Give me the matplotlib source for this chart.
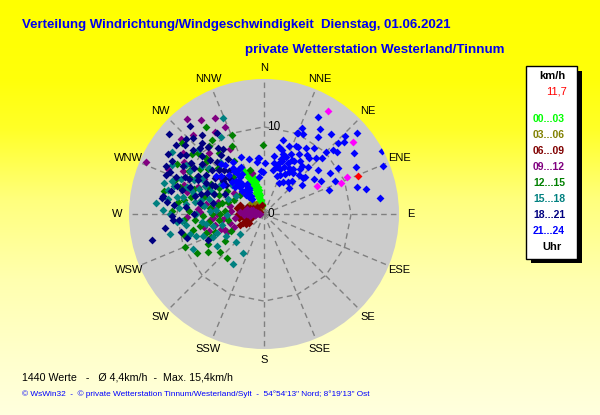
import numpy as np
import matplotlib
matplotlib.use("Agg")
import matplotlib.pyplot as plt
from matplotlib.patches import Rectangle, Circle

plt.rcParams['font.family'] = ['Liberation Sans', 'DejaVu Sans']

# --- wind readings (direction in deg from N, speed in km/h) ---
# 00...03 Uhr
dir_00 = [341, 343, 340, 344, 346, 342, 345, 347, 339, 343, 348, 344, 341, 346, 349, 342,
          345, 340, 347, 344, 350, 343, 338, 346, 336, 338, 337, 340, 342, 335, 339]
spd_00 = [5.2, 4.8, 4.5, 4.3, 3.9, 4.0, 3.6, 3.2, 3.8, 3.4, 2.8, 2.9, 3.1, 2.5, 2.2, 2.6,
          2.0, 2.3, 1.7, 1.5, 1.2, 1.9, 4.1, 1.0, 4.6, 5.0, 3.6, 3.0, 2.0, 5.4, 2.6]
# 03...06 Uhr
dir_03 = [300, 310, 320, 290, 330, 315, 305, 295]
spd_03 = [1.2, 0.9, 1.5, 1.0, 0.8, 1.8, 2.0, 1.4]
# 06...09 Uhr
dir_06 = [247, 251, 256, 275, 285, 315, 347, 297, 293, 268, 292, 283, 260, 240, 265, 278,
          300, 255, 270, 288, 245, 262, 280, 305, 250, 273, 290, 238]
spd_06 = [2.6, 2.1, 1.4, 2.4, 2.6, 1.1, 1.1, 0.5, 1.75, 2.5, 2.1, 3.2, 2.9, 2.4, 1.8, 1.5,
          1.4, 2.2, 3.0, 2.0, 3.1, 1.0, 0.9, 0.8, 1.7, 2.7, 2.9, 2.0]
# 09...12 Uhr
dir_09 = [265, 270, 275, 280, 285, 268, 272, 278, 283, 288, 266, 274, 281, 276, 271, 262,
          290, 279, 321, 333, 336, 329, 307, 332, 295, 294, 272, 264, 244, 262, 275, 300,
          310, 285, 318, 290, 305, 280, 325, 298, 312, 258, 268, 315, 326, 344, 265, 248,
          250, 255, 258, 266, 270, 276, 246, 253, 283, 278, 262, 296, 303, 318, 286, 274,
          310, 292]
spd_09 = [1.0, 1.4, 1.8, 2.2, 1.6, 0.6, 0.9, 1.2, 1.0, 2.0, 2.3, 2.4, 0.7, 0.5, 1.9, 1.6,
          1.3, 1.5, 14.1, 12.4, 10.9, 11.0, 11.7, 8.4, 12.2, 14.8, 7.4, 6.2, 4.7, 4.9, 2.8, 8.0,
          6.5, 5.5, 9.5, 9.8, 4.2, 6.8, 6.0, 10.5, 12.8, 7.0, 8.8, 3.6, 13.0, 4.9, 5.9, 4.8,
          5.2, 4.0, 5.8, 4.4, 5.4, 3.8, 3.8, 6.6, 4.0, 6.0, 3.4, 7.2, 11.0, 12.2, 9.2, 7.6,
          9.0, 8.2]
# 12...15 Uhr
dir_12 = [311, 325, 335, 342, 220, 229, 240, 242, 243, 259, 300, 290, 280, 270, 285, 305,
          315, 320, 295, 275, 265, 250, 310, 300, 288, 330, 278, 255, 262, 318, 292, 302,
          235, 247, 283, 326, 296, 308, 272, 338, 359, 313, 324, 313, 300, 278, 283, 287,
          291, 296, 299, 304, 268, 272, 276, 281, 286, 262, 257, 252, 266, 270, 309, 314,
          321, 300, 293, 260, 246, 236, 288]
spd_12 = [12.5, 10.4, 8.6, 5.3, 6.6, 6.7, 8.9, 7.3, 4.3, 7.5, 7.0, 8.5, 9.3, 6.0, 5.0, 9.0,
          7.5, 5.5, 3.8, 4.5, 8.0, 6.0, 10.8, 11.5, 10.2, 7.0, 7.2, 9.5, 5.2, 4.5, 6.2, 5.0,
          5.5, 9.8, 11.8, 12.0, 9.5, 3.5, 10.6, 9.8, 7.9, 10.3, 8.7, 9.0, 9.9, 10.0, 8.6, 9.8,
          11.0, 7.0, 8.8, 10.2, 7.0, 8.6, 6.2, 5.4, 7.2, 6.4, 8.4, 7.0, 9.2, 5.0, 8.2, 9.2,
          10.0, 6.0, 5.6, 4.2, 6.6, 7.8, 4.4]
# 15...18 Uhr
dir_15 = [337, 304, 331, 208, 212, 236, 244, 255, 230, 255, 272, 287, 290, 280, 295, 300,
          285, 270, 260, 310, 305, 275, 265, 292, 250, 320, 315, 298, 282, 268, 240, 225,
          258, 303, 288, 276, 312, 246, 262, 277, 281, 284, 289, 293, 286, 279, 283, 291,
          274, 278, 287, 296, 270, 265, 299, 302, 282, 273, 308, 263, 252, 248, 257, 294]
spd_15 = [12.0, 12.7, 10.1, 5.1, 6.8, 6.5, 9.1, 8.8, 3.6, 5.0, 11.6, 10.8, 11.2, 8.0, 7.5, 9.8,
          6.5, 7.8, 6.8, 8.2, 6.0, 5.5, 10.0, 4.5, 7.5, 7.8, 10.5, 12.0, 9.5, 4.2, 5.0, 4.5,
          11.0, 3.8, 8.8, 12.5, 5.0, 6.4, 9.0, 9.0, 10.2, 11.4, 9.4, 10.4, 8.4, 11.2, 7.4, 8.0,
          9.8, 7.0, 12.0, 9.0, 10.8, 9.4, 8.2, 10.6, 6.0, 6.2, 9.0, 7.2, 8.2, 5.8, 6.0, 6.6]
# 18...21 Uhr
dir_18 = [310, 317, 320, 314, 308, 316, 320, 292, 280, 257, 279, 277, 269, 258, 253, 245,
          266, 266, 300, 305, 295, 310, 315, 285, 290, 300, 318, 325, 288, 275, 305, 296,
          312, 282, 322, 302, 270, 330, 308, 293, 280, 262, 327, 297, 292, 298, 304, 309,
          313, 318, 295, 301, 306, 312, 316, 321, 324, 290, 297, 303, 307, 311, 299, 294,
          286, 284, 300, 319, 314, 309, 326, 328, 288, 276]
spd_18 = [14.3, 12.0, 13.2, 12.4, 12.8, 10.6, 10.0, 12.1, 11.8, 13.2, 11.9, 11.2, 10.6, 9.7, 9.3, 7.1,
          10.5, 9.8, 8.8, 10.2, 9.5, 7.8, 8.8, 8.2, 7.0, 6.5, 6.8, 9.2, 10.5, 9.0, 11.8, 12.5,
          11.0, 6.0, 11.5, 13.0, 8.0, 10.8, 5.5, 11.0, 7.5, 11.5, 7.5, 5.0, 6.2, 7.5, 8.0, 9.2,
          9.8, 8.0, 10.0, 10.8, 7.0, 6.2, 5.6, 6.3, 8.4, 9.0, 8.5, 9.6, 11.2, 12.0, 6.8, 11.8,
          9.8, 11.0, 12.2, 10.8, 7.2, 6.0, 5.8, 8.8, 7.6, 10.4]
# 21...24 Uhr
dir_21 = [29, 24, 33, 22, 26, 46, 49, 46, 48, 62, 68, 27, 13, 39, 46, 45, 47, 43, 51, 58,
          58, 74, 76, 82, 44, 31, 48, 359, 352, 15, 20, 25, 30, 35, 18, 22, 28, 33, 38,
          40, 12, 17, 24, 30, 36, 42, 26, 20, 32, 37, 55, 52, 65, 60, 70, 10, 14, 35, 40,
          50, 56, 63, 47, 23, 320, 325, 330, 327, 326, 345, 352, 355, 338, 328, 318, 324,
          320, 329, 322, 323, 354, 1, 356, 315, 318, 321, 324, 327, 330, 317, 326, 329, 334,
          331, 319, 316, 313, 311, 319, 323, 321, 326, 318, 331, 308, 305, 16, 19, 23, 27,
          31, 34, 21, 25, 29, 36, 11, 16, 19, 43, 39]
spd_21 = [12.7, 10.8, 11.7, 10.0, 10.2, 12.9, 14.1, 11.8, 12.3, 15.3, 14.7, 8.6, 7.9, 8.3, 9.2,
          10.1, 10.8, 7.4, 8.0, 8.9, 10.0, 11.1, 12.1, 13.5, 4.1, 4.3, 6.4, 4.8, 4.3, 6.0, 5.5,
          6.5, 7.0, 5.8, 7.2, 4.8, 5.2, 6.2, 7.0, 5.0, 5.2, 6.6, 7.6, 8.0, 4.6, 6.0, 4.0, 8.3,
          9.0, 9.5, 7.0, 5.5, 9.0, 7.5, 8.0, 6.8, 8.8, 10.8, 12.0, 11.0, 12.5, 11.8, 6.1, 10.1,
          5.0, 6.0, 4.0, 5.5, 3.5, 6.5, 6.0, 6.5, 7.0, 3.2, 4.2, 2.5, 2.8, 3.8, 7.2, 4.6, 6.5,
          5.9, 5.0, 5.2, 6.0, 4.8, 4.2, 5.0, 3.4, 3.0, 6.4, 7.0, 6.0, 5.2, 4.4, 3.6, 4.5,
          6.6, 7.6, 3.0, 2.2, 3.0, 2.6, 5.9, 7.0, 5.8, 5.6, 6.4, 5.8, 7.0, 5.6, 7.4, 7.0,
          8.6, 6.0, 8.4, 6.0, 7.6, 4.6, 8.8, 6.6]
# single magenta readings and the current value
dir_mag = [32, 51, 66, 68, 62]
spd_mag = [13.9, 13.1, 10.4, 9.5, 6.9]
dir_now = [68]
spd_now = [11.7]

groups = [(dir_00, spd_00, '#00ff00'), (dir_03, spd_03, '#808000'),
          (dir_06, spd_06, '#800000'), (dir_09, spd_09, '#800080'),
          (dir_12, spd_12, '#008000'), (dir_15, spd_15, '#008080'),
          (dir_18, spd_18, '#000080'), (dir_21, spd_21, '#0000ff'),
          (dir_mag, spd_mag, '#ff00ff'), (dir_now, spd_now, '#ff0000')]

legend_labels = ['00...03', '03...06', '06...09', '09...12',
                 '12...15', '15...18', '18...21', '21...24']
legend_colors = ['#00ff00', '#808000', '#800000', '#800080',
                 '#008000', '#008080', '#000080', '#0000ff']
compass = ['N', 'NNE', 'NE', 'ENE', 'E', 'ESE', 'SE', 'SSE',
           'S', 'SSW', 'SW', 'WSW', 'W', 'WNW', 'NW', 'NNW']

W, H = 600, 415
fig = plt.figure(figsize=(W / 100, H / 100), dpi=100)

# yellow gradient background
bg = fig.add_axes([0, 0, 1, 1], zorder=-10)
yy = np.linspace(0, H, 300)
b = np.interp(yy, [0, 80, 130, 200, 280, 360, 415], [0, 10, 40, 125, 175, 205, 222]) / 255
img = np.ones((300, 2, 3))
img[:, :, 2] = b[:, None]
bg.imshow(img, aspect='auto', extent=[0, 1, 0, 1])
bg.axis('off')

cx, cy, R = 264, 214, 135
rmax = 15.5
rect = [(cx - R) / W, (H - cy - R) / H, 2 * R / W, 2 * R / H]

# grey disc, spokes and the straight-edged 10 km/h ring
axg = fig.add_axes(rect, zorder=0)
axg.set_xlim(-rmax, rmax)
axg.set_ylim(-rmax, rmax)
axg.axis('off')
axg.add_patch(Circle((0, 0), rmax, facecolor='#cccccc', edgecolor='none'))
ang = np.deg2rad(np.arange(0, 361, 22.5))
for a in ang[:-1]:
    axg.plot([0, rmax * np.sin(a)], [0, rmax * np.cos(a)], color='#808080', lw=1,
             ls=(0, (4, 3)))
axg.plot(10 * np.sin(ang), 10 * np.cos(ang), color='#808080', lw=1, ls=(0, (4, 3)))

# polar scatter on top
ax = fig.add_axes(rect, projection='polar', zorder=1)
ax.set_theta_zero_location('N')
ax.set_theta_direction(-1)
ax.set_ylim(0, rmax)
ax.set_facecolor('none')
ax.grid(False)
ax.set_xticks([])
ax.set_yticks([])
ax.spines['polar'].set_visible(False)

for d, s, c in groups:
    ax.scatter(np.deg2rad(d), s, marker='D', s=16, c=c, linewidths=0, zorder=3)

for th, name in zip(ang[:-1], compass):
    ax.text(th, 16.8, name, ha='center', va='center', fontsize=8, clip_on=False)
ax.text(np.deg2rad(2), 10, '10', ha='left', va='center', fontsize=8.5, zorder=4)
ax.text(np.deg2rad(90), 0.45, '0', ha='left', va='center', fontsize=8.5, zorder=4)


def fx(x):
    return x / W


def fy(y):
    return 1 - y / H


renderer = fig.canvas.get_renderer()


def fit(t, width):
    bb = t.get_window_extent(renderer)
    t.set_fontsize(t.get_fontsize() * width / bb.width)


t1 = fig.text(fx(22), fy(25), 'Verteilung Windrichtung/Windgeschwindigkeit  Dienstag, 01.06.2021',
              color='#0000ee', fontweight='bold', fontsize=9, va='center')
t2 = fig.text(fx(245), fy(50), 'private Wetterstation Westerland/Tinnum',
              color='#0000ee', fontweight='bold', fontsize=9, va='center')
t3 = fig.text(fx(22), fy(377), '1440 Werte   -   Ø 4,4km/h  -  Max. 15,4km/h',
              color='black', fontsize=8, va='center')
t4 = fig.text(fx(22), fy(394),
              '© WsWin32  -  © private Wetterstation Tinnum/Westerland/Sylt  -  '
              '54°54\'13" Nord; 8°19\'13" Ost',
              color='#0000ff', fontsize=6, va='center')
fit(t1, 429)
fit(t2, 259)
fit(t3, 210)
fit(t4, 350)

# legend box with shadow
fig.patches.append(Rectangle((fx(531), fy(263)), (582 - 531) / W, (263 - 71) / H,
                             transform=fig.transFigure, facecolor='black', edgecolor='none'))
fig.patches.append(Rectangle((fx(526), fy(259)), (577 - 526) / W, (259 - 66) / H,
                             transform=fig.transFigure, facecolor='white',
                             edgecolor='black', lw=1))
fig.text(fx(552), fy(76), 'km/h', ha='center', va='center', fontsize=8, fontweight='bold')
fig.text(fx(567), fy(92), '11,7', ha='right', va='center', fontsize=8, color='#ff0000')
for i, (lab, col) in enumerate(zip(legend_labels, legend_colors)):
    fig.text(fx(549), fy(119 + i * 16), lab, ha='center', va='center', fontsize=7.5,
             fontweight='bold', color=col)
fig.text(fx(552), fy(247), 'Uhr', ha='center', va='center', fontsize=8, fontweight='bold')

fig.savefig('out.png', dpi=100)
